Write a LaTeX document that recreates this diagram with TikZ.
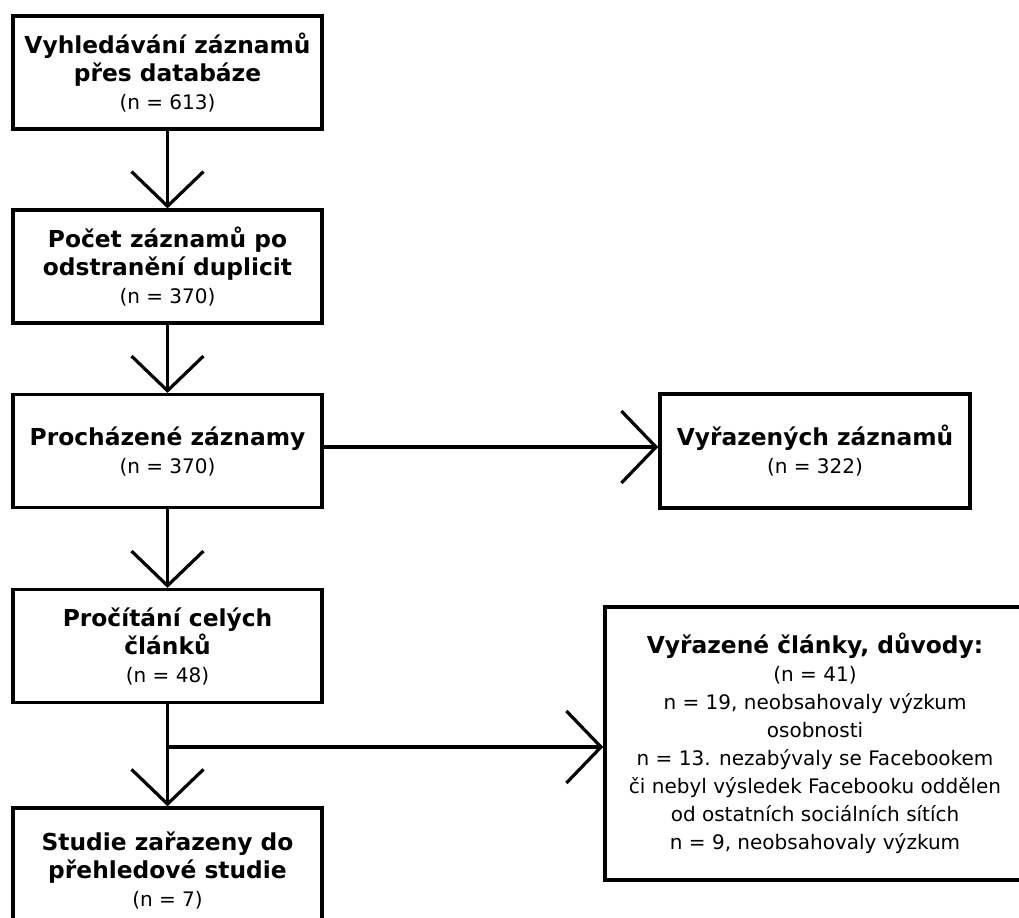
\documentclass[tikz,border=0pt]{standalone}
\usepackage{fontspec}
\setmainfont{DejaVu Sans}
\usetikzlibrary{arrows.meta}
\usetikzlibrary{positioning}
\tikzset{stage/.style = {draw, line width=2.6pt, align=center,
                         minimum width=231.75pt, minimum height=84.5pt,
                         inner sep=3pt, font=\fontsize{15}{21}\selectfont},
         flow/.style = {line width=2.4pt,
                        -{Straight Barb[length=26pt, width=54pt]}}}
\newcommand{\stagetitle}[1]{{\fontsize{17.5}{21}\selectfont\bfseries #1}}

\begin{document}
\begin{tikzpicture}[x=0.75pt, y=-0.75pt]
      \useasboundingbox (0, 0) rectangle (1019, 917);

      \node [stage] (search) at (167.5, 72.5) {\stagetitle{Vyhledávání záznamů}\\ \stagetitle{přes databáze}\\ (n = 613)};
      \node [stage] (dedup) at (167.5, 266.5) {\stagetitle{Počet záznamů po}\\ \stagetitle{odstranění duplicit}\\ (n = 370)};
      \node [stage] (screen) at (167.5, 451) {\stagetitle{Procházené záznamy}\\ (n = 370)};
      \node [stage] (fulltext) at (167.5, 646) {\stagetitle{Pročítání celých}\\ \stagetitle{článků}\\ (n = 48)};
      \node [stage, minimum height=93pt] (included) at (167.5, 870) {\stagetitle{Studie zařazeny do}\\ \stagetitle{přehledové studie}\\ (n = 7)};

      \node [stage, minimum width=232.5pt, minimum height=85.5pt] (excluded) at (815, 451) {\stagetitle{Vyřazených záznamů}\\ (n = 322)};
      \node [stage, minimum width=315pt, minimum height=205pt] (reasons) at (815, 743.5) {\stagetitle{Vyřazené články, důvody:}\\ (n = 41)\\ n = 19, neobsahovaly výzkum\\ osobnosti\\ n = 13. nezabývaly se Facebookem\\ či nebyl výsledek Facebooku oddělen\\ od ostatních sociálních sítích\\ n = 9, neobsahovaly výzkum};

      \draw [flow] (search) -- (dedup);
      \draw [flow] (dedup) -- (screen);
      \draw [flow] (screen) -- (fulltext);
      \draw [flow] (fulltext) -- (included);
      \draw [flow] (screen.east |- 0, 447) -- (excluded.west |- 0, 447);

      \coordinate (split) at (167.5, 747);
      \draw [flow] (split) -- (split -| reasons.west);
    \end{tikzpicture}
\end{document}
